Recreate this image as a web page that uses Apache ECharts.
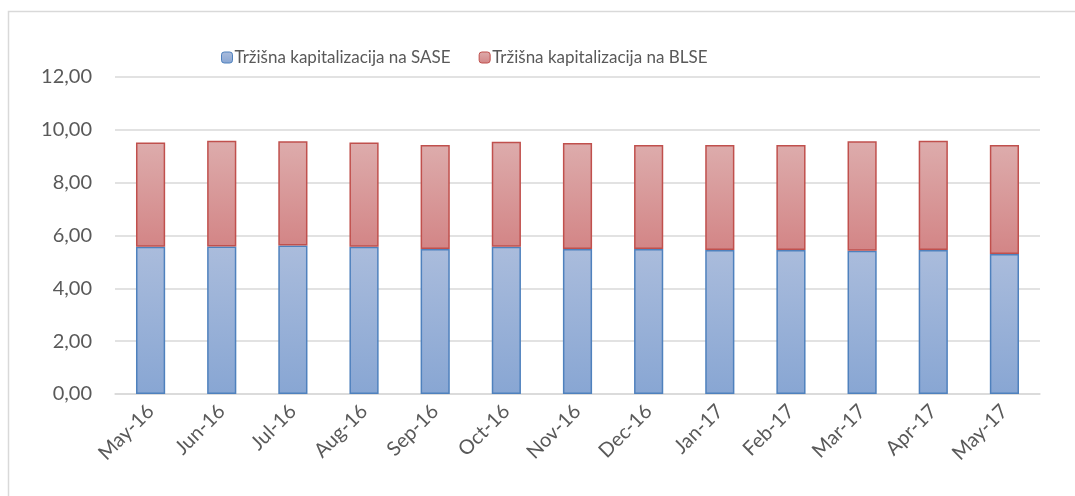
<!DOCTYPE html>
<html>
<head>
<meta charset="utf-8">
<script src="https://cdn.jsdelivr.net/npm/echarts@6/dist/echarts.min.js"></script>
<style>
  html, body { margin: 0; padding: 0; background: #fff; }
  #chart { width: 1075px; height: 496px; }
</style>
</head>
<body>
<div id="chart"></div>
<script>
const months = ['May-16', 'Jun-16', 'Jul-16', 'Aug-16', 'Sep-16', 'Oct-16', 'Nov-16',
  'Dec-16', 'Jan-17', 'Feb-17', 'Mar-17', 'Apr-17', 'May-17']
const sase = [5.57, 5.58, 5.62, 5.57, 5.49, 5.57, 5.49, 5.49, 5.45, 5.45, 5.42, 5.45, 5.30]
const blse = [3.95, 4.01, 3.95, 3.95, 3.94, 3.98, 4.01, 3.94, 3.98, 3.98, 4.15, 4.14, 4.13]
const seriesNames = ['Tržišna kapitalizacija na SASE', 'Tržišna kapitalizacija na BLSE']

const textColor = '#595959'
const font = 'Lato, "Open Sans", sans-serif'

function grad(top, bottom) {
  return new echarts.graphic.LinearGradient(0, 0, 0, 1, [
    { offset: 0, color: top },
    { offset: 1, color: bottom }
  ])
}

const chart = echarts.init(document.getElementById('chart'))

chart.setOption({
  backgroundColor: '#fff',
  animation: false,
  textStyle: { fontFamily: font },
  graphic: [
    {
      type: 'rect',
      shape: { x: 8.5, y: 11.5, width: 1200, height: 700 },
      style: { fill: 'none', stroke: '#d9d9d9', lineWidth: 1.5 },
      silent: true
    }
  ],
  legend: {
    top: 44,
    left: 216,
    itemWidth: 11,
    itemHeight: 11,
    itemGap: 28,
    itemStyle: { borderWidth: 1 },
    textStyle: { color: textColor, fontSize: 17, fontFamily: font, padding: [0, 0, 0, -3] },
    data: seriesNames
  },
  grid: {
    left: 115,
    right: 35,
    top: 77,
    bottom: 102
  },
  xAxis: {
    type: 'category',
    data: months,
    axisLine: { lineStyle: { color: '#d9d9d9', width: 1.5 } },
    axisTick: { show: false },
    axisLabel: {
      color: textColor,
      fontSize: 20,
      rotate: 45,
      margin: 14,
      interval: 0
    }
  },
  yAxis: {
    type: 'value',
    min: 0,
    max: 12,
    interval: 2,
    axisLine: { show: false },
    axisTick: { show: false },
    splitLine: { lineStyle: { color: '#d9d9d9', width: 1.5 } },
    axisLabel: {
      color: textColor,
      fontSize: 20,
      margin: 23,
      formatter: (v) => v.toFixed(2).replace('.', ',')
    }
  },
  series: [
    {
      name: seriesNames[0],
      type: 'bar',
      stack: 'total',
      barWidth: '41%',
      data: sase,
      itemStyle: {
        color: grad('#aabcdc', '#88a6d3'),
        borderColor: '#4f81bd',
        borderWidth: 1.5
      }
    },
    {
      name: seriesNames[1],
      type: 'bar',
      stack: 'total',
      barWidth: '41%',
      data: blse,
      itemStyle: {
        color: grad('#ddacac', '#d38586'),
        borderColor: '#c0504d',
        borderWidth: 1.5
      }
    }
  ]
})
</script>
</body>
</html>
